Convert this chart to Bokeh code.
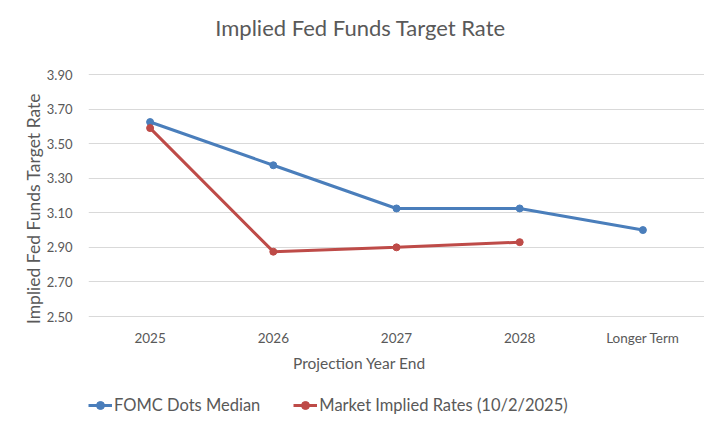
from bokeh.plotting import figure
from bokeh.models import (FactorRange, Range1d, FixedTicker, NumeralTickFormatter,
                          Legend, LegendItem, ColumnDataSource, Label, Title)
from bokeh.core.properties import value
from bokeh.embed import file_html
from bokeh.resources import INLINE

categories = ["2025", "2026", "2027", "2028", "Longer Term"]
fomc_values = [3.625, 3.375, 3.125, 3.125, 3.0]
market_categories = ["2025", "2026", "2027", "2028"]
market_values = [3.59, 2.875, 2.90, 2.93]
y_ticks = [2.5, 2.7, 2.9, 3.1, 3.3, 3.5, 3.7, 3.9]

FONT = "Lato"
GREY = "#595959"
BLUE = "#4A7EBB"
RED = "#BE4B48"

# layout (pixels)
W, H = 704, 416
GRID_TOP = 74              # pixel row of the highest gridline (3.90)
GRID_BOTTOM = 316          # pixel row of the lowest gridline (2.50)
LEFT = 88
y_min, y_max = y_ticks[0], y_ticks[-1]
px_per_unit = (GRID_BOTTOM - GRID_TOP) / (y_max - y_min)
y_end = y_max + GRID_TOP / px_per_unit            # frame runs to the top edge
y_start = y_min - (H - GRID_BOTTOM) / px_per_unit # ... and to the bottom edge

p = figure(x_range=FactorRange(*categories), y_range=Range1d(y_start, y_end),
           width=W, height=H, output_backend="svg", toolbar_location=None,
           min_border_left=LEFT, min_border_right=0, min_border_top=0,
           min_border_bottom=0)
p.outline_line_color = None
p.background_fill_color = "white"
p.border_fill_color = "white"

# title
p.add_layout(Label(x=360 - LEFT, y=H - 27, x_units="screen", y_units="screen",
                   text="Implied Fed Funds Target Rate", text_font=FONT,
                   text_font_size="22px", text_color=GREY,
                   text_align="center", text_baseline="middle"))

fomc_src = ColumnDataSource(dict(x=categories, y=fomc_values))
mkt_src = ColumnDataSource(dict(x=market_categories, y=market_values))

l1 = p.line("x", "y", source=fomc_src, line_color=BLUE, line_width=3)
s1 = p.scatter("x", "y", source=fomc_src, size=7, fill_color=BLUE, line_color=BLUE)
l2 = p.line("x", "y", source=mkt_src, line_color=RED, line_width=3)
s2 = p.scatter("x", "y", source=mkt_src, size=7, fill_color=RED, line_color=RED)

# y axis
p.yaxis.ticker = FixedTicker(ticks=y_ticks)
p.yaxis.formatter = NumeralTickFormatter(format="0.00")
ax = p.yaxis[0]
ax.axis_line_color = None
ax.major_tick_line_color = None
ax.minor_tick_line_color = None
ax.major_label_text_font = FONT
ax.major_label_text_color = GREY
ax.major_label_text_font_size = "13px"
ax.major_label_standoff = 10

# y axis title, centred on the gridded area (shifted upward by offset)
ytitle = Title(text="Implied Fed Funds Target Rate", align="center",
               offset=H / 2 - (GRID_TOP + GRID_BOTTOM) / 2 + 8,
               text_font=FONT, text_font_size="17.5px", text_font_style="normal",
               text_color=GREY, standoff=0)
p.add_layout(ytitle, "left")

# x axis drawn inside the (extended) frame, below the 2.50 gridline
p.xaxis.visible = False
tick_y = y_min - 21 / px_per_unit
p.text(x=categories, y=[tick_y] * len(categories), text=categories,
       text_font=value(FONT), text_font_size="13.5px", text_color=GREY,
       text_align="center", text_baseline="middle")
p.add_layout(Label(x=359 - LEFT, y=H - 362, x_units="screen", y_units="screen",
                   text="Projection Year End", text_font=FONT,
                   text_font_size="15.5px", text_color=GREY,
                   text_align="center", text_baseline="middle"))

p.xgrid.grid_line_color = None
p.ygrid.grid_line_color = "#D9D9D9"
p.ygrid.grid_line_width = 1

legend = Legend(items=[
    LegendItem(label="FOMC Dots Median", renderers=[l1, s1]),
    LegendItem(label="Market Implied Rates (10/2/2025)", renderers=[l2, s2]),
], orientation="horizontal", location=(0, 1))
legend.border_line_color = None
legend.background_fill_alpha = 0
legend.label_text_font = FONT
legend.label_text_font_size = "16.5px"
legend.label_text_color = GREY
legend.glyph_width = 24
legend.label_standoff = 2
legend.spacing = 33
legend.padding = 0
legend.margin = 0
p.add_layout(legend, "center")

open("out.html", "w").write(file_html(p, INLINE))
